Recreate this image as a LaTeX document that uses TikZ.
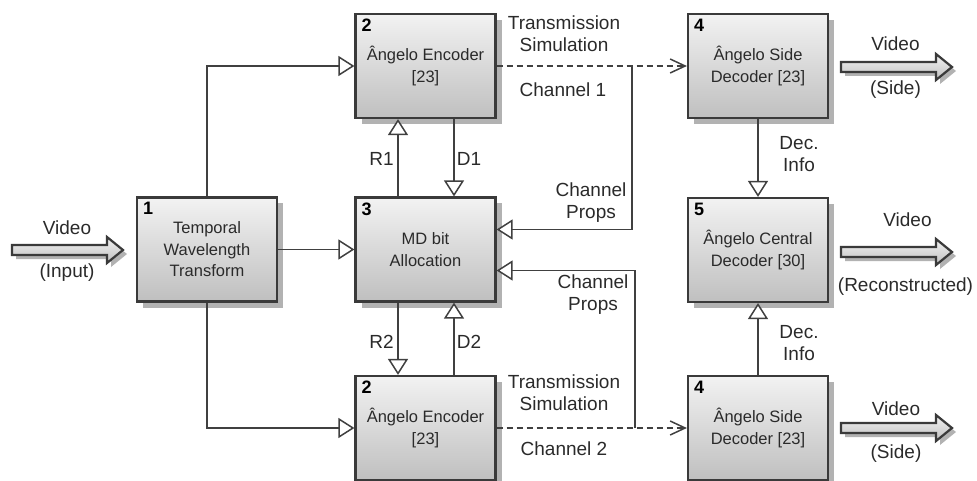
\documentclass[tikz,border=0pt]{standalone}
\usepackage{fontspec}
\setmainfont{Liberation Sans}
\usetikzlibrary{arrows.meta,shadows}
\definecolor{edgec}{HTML}{3A3A3A}
\definecolor{linec}{HTML}{404040}
\definecolor{txtc}{HTML}{2A2A2A}
\newcommand{\fatarrowshape}[3]{%
  \fill[black!30] ({#1+4},{#3-1}) -- ({#2-12},{#3-1}) -- ({#2-12},{#3-9}) -- ({#2+4},{#3+4}) -- ({#2-12},{#3+17}) -- ({#2-12},{#3+9}) -- ({#1+4},{#3+9}) -- cycle;
  \draw[fatarrow] (#1,{#3-5}) -- ({#2-16},{#3-5}) -- ({#2-16},{#3-13}) -- (#2,#3) -- ({#2-16},{#3+13}) -- ({#2-16},{#3+5}) -- (#1,{#3+5}) -- cycle;}
\begin{document}
\begin{tikzpicture}[x=1pt,y=-1pt,
  box/.style={draw=edgec, line width=2.2pt, top color=black!5, bottom color=black!25,
    minimum width=140pt, minimum height=104pt, inner sep=0pt, align=center,
    font=\fontsize{16.5}{21.5}\selectfont, text=txtc,
    drop shadow={shadow xshift=6pt, shadow yshift=-6pt, fill=black!30, opacity=1}},
  numlab/.style={anchor=north west, inner sep=0pt, xshift=7pt, yshift=-6pt,
    font=\bfseries\fontsize{18}{20}\selectfont},
  lab/.style={font=\fontsize{19}{22}\selectfont, text=txtc, align=center, inner sep=0pt},
  conn/.style={draw=linec, line width=1.5pt},
  tri/.style={conn, -{Triangle[length=16pt,width=20pt,fill=white,line width=1.5pt]}},
  dashconn/.style={conn, dash pattern=on 6pt off 4pt, -{Straight Barb[length=15pt,width=14pt,line width=1.5pt]}},
  fatarrow/.style={draw=edgec, line width=2.2pt, top color=black!5, bottom color=black!25}
]
\useasboundingbox (0,0) rectangle (977,481);

% boxes
\node[box, label={[numlab]north west:1}] (b1) at (207,249.5) {Temporal\\Wavelength\\Transform};
\node[box, label={[numlab]north west:2}] (b2t) at (425.5,66) {Ângelo Encoder\\{[23]}};
\node[box, label={[numlab]north west:3}] (b3) at (425.5,249.5) {MD bit\\Allocation};
\node[box, label={[numlab]north west:2}] (b2b) at (425.5,428) {Ângelo Encoder\\{[23]}};
\node[box, label={[numlab]north west:4}] (b4t) at (758,66) {Ângelo Side\\Decoder [23]};
\node[box, label={[numlab]north west:5}] (b5) at (758,250) {Ângelo Central\\Decoder [30]};
\node[box, label={[numlab]north west:4}] (b4b) at (758,428) {Ângelo Side\\Decoder [23]};

% fat arrows
\fatarrowshape{12}{123}{250}
\fatarrowshape{841}{952}{67}
\fatarrowshape{841}{952}{252}
\fatarrowshape{841}{952}{428}

% connectors
\coordinate (cp1) at (632,66);
\coordinate (cp2) at (635,428);
\draw[tri] (b1.north) |- (b2t.west);
\draw[tri] (b1.south) |- (b2b.west);
\draw[tri] (b1.east) -- (b3.west);
\draw[dashconn] (b2t.east) -- (b4t.west);
\draw[dashconn] (b2b.east) -- (b4b.west);
\draw[tri] ([xshift=-27.5pt]b3.north) -- ([xshift=-27.5pt]b2t.south);
\draw[tri] ([xshift=28.5pt]b2t.south) -- ([xshift=28.5pt]b3.north);
\draw[tri] ([xshift=-27.5pt]b3.south) -- ([xshift=-27.5pt]b2b.north);
\draw[tri] ([xshift=28.5pt]b2b.north) -- ([xshift=28.5pt]b3.south);
\draw[tri] (cp1) |- ([yshift=20pt]b3.east);
\draw[tri] (cp2) |- ([yshift=-21pt]b3.east);
\draw[tri] (b4t.south) -- (b5.north);
\draw[tri] (b4b.north) -- (b5.south);

% labels
\node[lab] (lvin) at (67,227.5) {Video};
\node[lab] (linp) at (67,273) {(Input)};
\node[lab] (lts1) at (564,34) {Transmission\\Simulation};
\node[lab] (lch1) at (563,90) {Channel 1};
\node[lab] (lts2) at (564,392.5) {Transmission\\Simulation};
\node[lab] (lch2) at (564,448.5) {Channel 2};
\node[lab] (lr1) at (381.5,158.5) {R1};
\node[lab] (ld1) at (469,158.5) {D1};
\node[lab] (lr2) at (381.5,341.5) {R2};
\node[lab] (ld2) at (469,341.5) {D2};
\node[lab] (lcp1) at (591,203) {Channel\\Props};
\node[lab] (lcp2) at (593,295) {Channel\\Props};
\node[lab] (ldi1) at (799,154) {Dec.\\Info};
\node[lab] (ldi2) at (799,343) {Dec.\\Info};
\node[lab] (lvo1) at (895.5,43.7) {Video};
\node[lab] (lsd1) at (895.5,90) {(Side)};
\node[lab] (lvo2) at (907.5,220) {Video};
\node[lab] (lrc) at (905.5,287) {(Reconstructed)};
\node[lab] (lvo3) at (896,408.3) {Video};
\node[lab] (lsd3) at (896,454) {(Side)};
\end{tikzpicture}
\end{document}
